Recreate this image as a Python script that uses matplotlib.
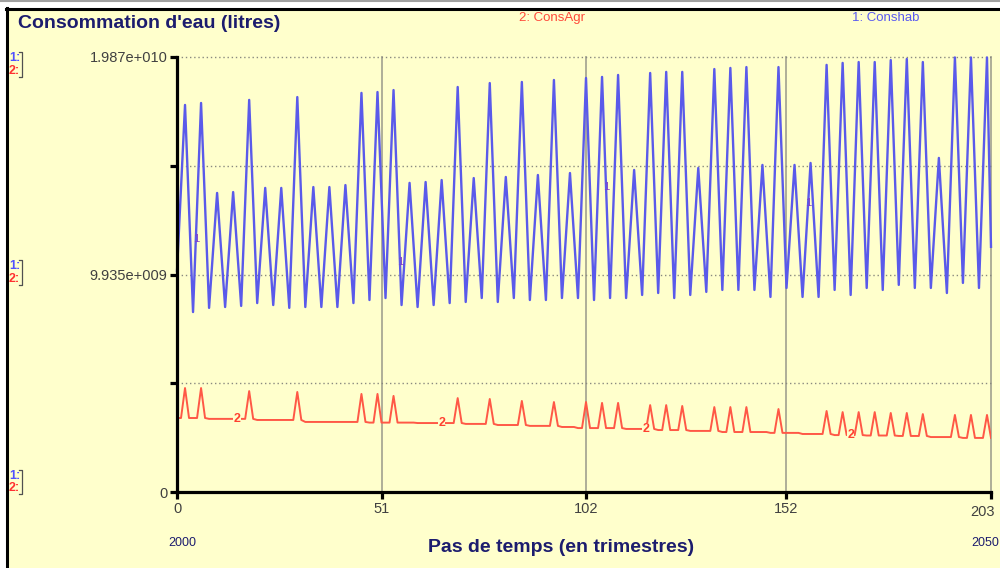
import numpy as np
import matplotlib
matplotlib.use('Agg')
import matplotlib.pyplot as plt
from matplotlib.lines import Line2D
from matplotlib.patches import Rectangle

plt.rcParams['font.family'] = ['Liberation Sans', 'DejaVu Sans']

# ---------------- data (values in 1e9 litres) ----------------
steps = np.arange(204)

conshab = [
    10.10, 13.90, 17.68, 12.95,
    8.22, 13.00, 17.77, 13.09,
    8.41, 11.04, 13.66, 11.06,
    8.45, 11.08, 13.70, 11.10,
    8.50, 13.20, 17.91, 13.27,
    8.63, 11.26, 13.89, 11.22,
    8.54, 11.22, 13.89, 11.15,
    8.41, 13.23, 18.04, 13.25,
    8.45, 11.19, 13.93, 11.19,
    8.45, 11.19, 13.93, 11.19,
    8.45, 11.24, 14.02, 11.33,
    8.63, 13.43, 18.23, 13.50,
    8.77, 13.52, 18.27, 13.57,
    8.86, 13.61, 18.36, 13.45,
    8.54, 11.33, 14.12, 11.29,
    8.45, 11.31, 14.16, 11.35,
    8.54, 11.40, 14.25, 11.44,
    8.63, 13.57, 18.50, 13.59,
    8.68, 11.51, 14.34, 11.60,
    8.86, 13.77, 18.68, 13.68,
    8.68, 11.54, 14.39, 11.63,
    8.86, 13.80, 18.73, 13.75,
    8.77, 11.63, 14.48, 11.63,
    8.77, 13.80, 18.82, 13.84,
    8.86, 11.72, 14.57, 11.72,
    8.86, 13.89, 18.91, 13.84,
    8.77, 13.87, 18.96, 13.91,
    8.86, 13.96, 19.05, 13.96,
    8.86, 11.79, 14.71, 11.86,
    9.00, 14.07, 19.14, 14.12,
    9.09, 14.14, 19.19, 14.03,
    8.86, 14.03, 19.19, 14.10,
    9.00, 11.90, 14.80, 11.97,
    9.14, 14.23, 19.32, 14.28,
    9.23, 14.30, 19.37, 14.30,
    9.23, 14.32, 19.41, 14.32,
    9.23, 12.09, 14.94, 11.93,
    8.91, 14.16, 19.41, 14.37,
    9.32, 12.13, 14.94, 11.93,
    8.91, 11.97, 15.03, 11.97,
    8.91, 14.21, 19.51, 14.37,
    9.23, 14.42, 19.60, 14.30,
    9.00, 14.32, 19.64, 14.48,
    9.32, 14.48, 19.64, 14.44,
    9.23, 14.48, 19.73, 14.60,
    9.46, 14.62, 19.78, 14.55,
    9.32, 14.48, 19.64, 14.48,
    9.32, 12.29, 15.26, 12.18,
    9.09, 14.47, 19.85, 14.70,
    9.55, 14.70, 19.85, 14.59,
    9.32, 14.59, 19.85, 11.20,
]

consagr = [
    3.38, 3.38, 4.75, 3.38,
    3.38, 3.38, 4.75, 3.38,
    3.34, 3.34, 3.34, 3.34,
    3.34, 3.34, 3.34, 3.34,
    3.34, 3.34, 4.61, 3.34,
    3.29, 3.29, 3.29, 3.29,
    3.29, 3.29, 3.29, 3.29,
    3.29, 3.29, 4.57, 3.29,
    3.20, 3.20, 3.20, 3.20,
    3.20, 3.20, 3.20, 3.20,
    3.20, 3.20, 3.20, 3.20,
    3.20, 3.20, 4.48, 3.20,
    3.17, 3.17, 4.48, 3.17,
    3.17, 3.17, 4.39, 3.17,
    3.17, 3.17, 3.17, 3.17,
    3.15, 3.15, 3.15, 3.15,
    3.15, 3.15, 3.15, 3.15,
    3.15, 3.15, 4.29, 3.15,
    3.11, 3.11, 3.11, 3.11,
    3.11, 3.11, 4.25, 3.11,
    3.06, 3.06, 3.06, 3.06,
    3.06, 3.06, 4.16, 3.06,
    3.02, 3.02, 3.02, 3.02,
    3.02, 3.02, 4.11, 3.02,
    2.97, 2.97, 2.97, 2.97,
    2.92, 2.92, 4.11, 2.92,
    2.92, 2.92, 4.07, 2.92,
    2.92, 2.92, 4.07, 2.92,
    2.88, 2.88, 2.88, 2.88,
    2.88, 2.88, 3.97, 2.88,
    2.83, 2.83, 3.97, 2.83,
    2.83, 2.83, 3.93, 2.83,
    2.79, 2.79, 2.79, 2.79,
    2.79, 2.79, 3.88, 2.79,
    2.74, 2.74, 3.88, 2.74,
    2.74, 2.74, 3.88, 2.74,
    2.74, 2.74, 2.74, 2.74,
    2.70, 2.70, 3.79, 2.70,
    2.70, 2.70, 2.70, 2.70,
    2.65, 2.65, 2.65, 2.65,
    2.65, 2.65, 3.70, 2.65,
    2.60, 2.60, 3.65, 2.60,
    2.60, 2.60, 3.65, 2.60,
    2.58, 2.58, 3.65, 2.58,
    2.58, 2.58, 3.61, 2.58,
    2.56, 2.56, 3.61, 2.56,
    2.56, 2.56, 3.56, 2.56,
    2.51, 2.51, 2.51, 2.51,
    2.51, 2.51, 3.52, 2.51,
    2.47, 2.47, 3.52, 2.47,
    2.47, 2.47, 3.52, 2.47,
]

unit = 1e9
x_ticks = [0, 51, 102, 152, 203]
x_tick_labels = ['0', '51', '102', '152', '203']
y_max = 1.987e10
y_ticks = [0, y_max / 4, y_max / 2, 3 * y_max / 4, y_max]
y_tick_labels = ['0', '', '9.935e+009', '', '1.987e+010']
start_year, end_year = '2000', '2050'
label1_steps = [4.7, 55.6, 107, 157.4]
label2_steps = [15, 66, 117, 168]

# ---------------- styling ----------------
BG = '#ffffcc'
BLUE = '#5a5aea'
RED = '#ff5846'
NAVY = '#1c1c6e'
TICKC = '#404040'

W, H = 1000, 568
fig = plt.figure(figsize=(W / 100, H / 100), dpi=100, facecolor=BG)

def fx(px):
    return px / W

def fy(py):
    return 1 - py / H

# frame decoration
fig.add_artist(Rectangle((0, fy(8)), 1, 8 / H, transform=fig.transFigure,
                         facecolor='white', edgecolor='none'))
fig.add_artist(Rectangle((0, 0), fx(6), 1, transform=fig.transFigure,
                         facecolor='white', edgecolor='none'))
fig.add_artist(Line2D([0, 1], [fy(1), fy(1)], transform=fig.transFigure,
                      color='#a0a0a0', lw=1.5))
fig.add_artist(Line2D([fx(6), 1], [fy(8.5), fy(8.5)], transform=fig.transFigure,
                      color='black', lw=2.2))
fig.add_artist(Line2D([fx(7), fx(7)], [fy(8), 0], transform=fig.transFigure,
                      color='black', lw=2.2))

ax = fig.add_axes([fx(177), fy(492), 814 / W, 435 / H])
ax.set_facecolor(BG)

blue = np.array(conshab) * unit
red = np.array(consagr) * unit

ax.plot(steps, blue, color=BLUE, lw=1.7, zorder=3, clip_on=False)
ax.plot(steps, red, color=RED, lw=1.4, zorder=3)

ax.set_xlim(0, 203)
ax.set_ylim(0, y_max)
ax.set_xticks(x_ticks)
ax.set_xticklabels(x_tick_labels[:-1] + [''])
ax.set_yticks(y_ticks)
ax.set_yticklabels(y_tick_labels)

ax.grid(axis='y', linestyle=(0, (1, 2)), color='#8a8a80', lw=1.0, zorder=1)
ax.grid(axis='x', linestyle='-', color='#a8a894', lw=1.3, zorder=1)
for gl in ax.get_xgridlines() + ax.get_ygridlines():
    gl.set_clip_on(False)

for s in ['top', 'right']:
    ax.spines[s].set_visible(False)
for s in ['left', 'bottom']:
    ax.spines[s].set_linewidth(2.3)
    ax.spines[s].set_color('black')
    ax.spines[s].set_zorder(4)

ax.tick_params(direction='out', length=5, width=2.3, color='black',
               labelsize=10.5, labelcolor=TICKC, pad=2)

ax.annotate(x_tick_labels[-1], xy=(203, 0), xycoords=('data', 'axes fraction'),
            xytext=(-8, -20), textcoords='offset pixels', ha='center', va='center',
            fontsize=10.5, color=TICKC)

# series number markers
for s in label1_steps:
    ax.text(s, np.interp(s, steps, blue), '1', color='#8040c8', fontsize=8,
            ha='center', va='center', zorder=5)
for s in label2_steps:
    ax.text(s, np.interp(s, steps, red), '2', color='#ff4030', fontsize=9,
            fontweight='bold', ha='center', va='center', zorder=5,
            bbox=dict(facecolor=BG, edgecolor='none', pad=0.3))

# texts
fig.text(fx(18), fy(23), "Consommation d'eau (litres)", fontsize=14,
         fontweight='bold', color=NAVY, va='center', ha='left')
fig.text(fx(561), fy(548), 'Pas de temps (en trimestres)', fontsize=14,
         fontweight='bold', color=NAVY, va='center', ha='center')
fig.text(fx(519), fy(18), '2: ConsAgr', fontsize=9.5, color='#ff4a3a',
         va='center', ha='left')
fig.text(fx(852), fy(18), '1: Conshab', fontsize=9.5, color='#5a5af0',
         va='center', ha='left')
fig.text(fx(182), fy(543), start_year, fontsize=9, color=NAVY,
         va='center', ha='center')
fig.text(fx(971), fy(543), end_year, fontsize=9, color=NAVY,
         va='center', ha='left')

# left scale markers
for y1, y2 in [(58, 71), (266, 279), (476, 488)]:
    fig.text(fx(9), fy(y1), '1:', fontsize=9, fontweight='bold', color='#5050ff',
             va='center', ha='left')
    fig.text(fx(9), fy(y2), '2:', fontsize=9, fontweight='bold', color='#ff3030',
             va='center', ha='left')
    top, bot = y1 - 6, y2 + 6
    fig.add_artist(Line2D([fx(19), fx(22), fx(22), fx(19)],
                          [fy(top), fy(top), fy(bot), fy(bot)],
                          transform=fig.transFigure, color='#505050', lw=0.9))

fig.savefig('out.png', dpi=100, facecolor=BG)
